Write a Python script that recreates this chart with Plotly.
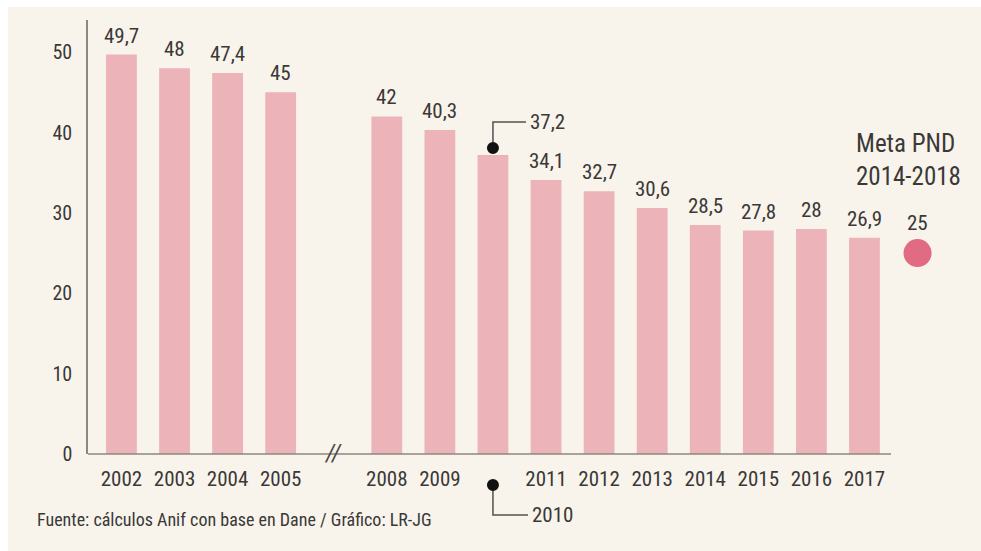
import plotly.graph_objects as go

# Series data
years = ["2002", "2003", "2004", "2005", "2008", "2009", "2010",
         "2011", "2012", "2013", "2014", "2015", "2016", "2017"]
values = [49.7, 48, 47.4, 45, 42, 40.3, 37.2, 34.1, 32.7, 30.6, 28.5, 27.8, 28, 26.9]
# slot index of each year on the axis (slot 4 holds the axis break)
slots = [0, 1, 2, 3, 5, 6, 7, 8, 9, 10, 11, 12, 13, 14]
break_slot = 4
highlight_year = "2010"

goal_title = "Meta PND<br>2014-2018"
goal_value = 25
goal_slot = 15

y_ticks = [0, 10, 20, 30, 40, 50]
source_text = "Fuente: cálculos Anif con base en Dane / Gráfico: LR-JG"

FONT = "Roboto Condensed, Liberation Sans Narrow, sans-serif"
TEXT = "#3b3838"
BAR = "#ECB3B9"
DOT = "#E06B82"
CREAM = "#F8F4EB"
AXIS = "#8c8782"
LEADER = "#555050"

X_MIN, X_MAX = -0.63, 15.8
axis_end = slots[-1] + 0.5


def fmt(v):
    return f"{v:g}".replace(".", ",")


fig = go.Figure()

fig.add_trace(go.Bar(
    x=slots, y=values, width=0.58,
    marker=dict(color=BAR, line=dict(width=0)),
    hoverinfo="skip",
))

fig.add_trace(go.Scatter(
    x=[goal_slot], y=[goal_value], mode="markers",
    marker=dict(size=28, color=DOT, line=dict(width=0)),
    cliponaxis=False, hoverinfo="skip",
))

hi = years.index(highlight_year)
annotations = []

# value labels above bars
for i, (s, v) in enumerate(zip(slots, values)):
    if i == hi:
        continue
    annotations.append(dict(
        x=s, y=v, xref="x", yref="y", text=fmt(v), showarrow=False,
        yanchor="bottom", yshift=5, font=dict(family=FONT, size=21, color=TEXT),
    ))

# highlighted year: value and year label sit on leader lines
hs, hv = slots[hi], values[hi]
annotations.append(dict(
    x=hs, y=hv, xref="x", yref="y", text=fmt(hv), showarrow=False,
    xanchor="left", yanchor="middle", xshift=35, yshift=33,
    font=dict(family=FONT, size=21, color=TEXT),
))
annotations.append(dict(
    x=hs, y=0, xref="x", yref="paper", text=highlight_year, showarrow=False,
    xanchor="left", yanchor="middle", xshift=37, yshift=-61,
    font=dict(family=FONT, size=21, color=TEXT),
))

# goal marker labels
annotations.append(dict(
    x=goal_slot, y=goal_value, xref="x", yref="y", text=fmt(goal_value),
    showarrow=False, yanchor="bottom", yshift=16,
    font=dict(family=FONT, size=21, color=TEXT),
))
annotations.append(dict(
    x=goal_slot, y=goal_value, xref="x", yref="y", text=goal_title,
    showarrow=False, xanchor="left", yanchor="middle",
    xshift=-64, yshift=93, align="left",
    font=dict(family=FONT, size=25, color=TEXT),
))

# axis break marker
annotations.append(dict(
    x=break_slot, y=0, xref="x", yref="y", text="<i>//</i>", showarrow=False,
    yanchor="middle", xanchor="center", xshift=-1, yshift=1,
    font=dict(family=FONT, size=24, color="#4a4646"),
))

# source line
annotations.append(dict(
    x=-0.0608, y=-0.152, xref="paper", yref="paper", text=source_text,
    showarrow=False, xanchor="left", yanchor="middle",
    font=dict(family=FONT, size=18, color=TEXT),
))

shapes = [
    # cream panel
    dict(type="rect", xref="paper", yref="paper", x0=-0.0917, x1=1.3,
         y0=-0.4, y1=1.03, fillcolor=CREAM, line=dict(width=0), layer="below"),
    # baseline under the bars, stopping after the last year
    dict(type="line", xref="x", yref="paper", x0=X_MIN, x1=axis_end, y0=0, y1=0,
         line=dict(color=AXIS, width=1.5)),
    # leader line to the highlighted value
    dict(type="path", xref="x", yref="y", xsizemode="pixel", ysizemode="pixel",
         xanchor=hs, yanchor=hv, path="M 0 7 L 0 33 L 33 33",
         line=dict(color=LEADER, width=1.5)),
    dict(type="circle", xref="x", yref="y", xsizemode="pixel", ysizemode="pixel",
         xanchor=hs, yanchor=hv, x0=-6, x1=6, y0=1, y1=13,
         fillcolor="#111111", line=dict(width=0)),
    # leader line to the highlighted year
    dict(type="path", xref="x", yref="paper", xsizemode="pixel", ysizemode="pixel",
         xanchor=hs, yanchor=0, path="M 0 -31 L 0 -61 L 35 -61",
         line=dict(color=LEADER, width=1.5)),
    dict(type="circle", xref="x", yref="paper", xsizemode="pixel", ysizemode="pixel",
         xanchor=hs, yanchor=0, x0=-6, x1=6, y0=-37, y1=-25,
         fillcolor="#111111", line=dict(width=0)),
]

tick_slots = [s for i, s in enumerate(slots) if i != hi]
tick_text = [y for i, y in enumerate(years) if i != hi]

fig.update_layout(
    width=981, height=551,
    margin=dict(l=88, r=21, t=20, b=97),
    paper_bgcolor="white", plot_bgcolor="rgba(0,0,0,0)",
    showlegend=False,
    annotations=annotations, shapes=shapes,
    xaxis=dict(
        range=[X_MIN, X_MAX], tickmode="array", tickvals=tick_slots, ticktext=tick_text,
        showgrid=False, zeroline=False, showline=False,
        ticks="", ticklabelstandoff=10,
        tickfont=dict(family=FONT, size=21, color=TEXT),
    ),
    yaxis=dict(
        range=[0, 54], tickmode="array", tickvals=y_ticks,
        showgrid=False, zeroline=False, showline=True, linecolor=AXIS, linewidth=1.5,
        ticks="", ticklabelstandoff=10,
        tickfont=dict(family=FONT, size=20, color=TEXT),
    ),
)

fig.write_html("out.html")
